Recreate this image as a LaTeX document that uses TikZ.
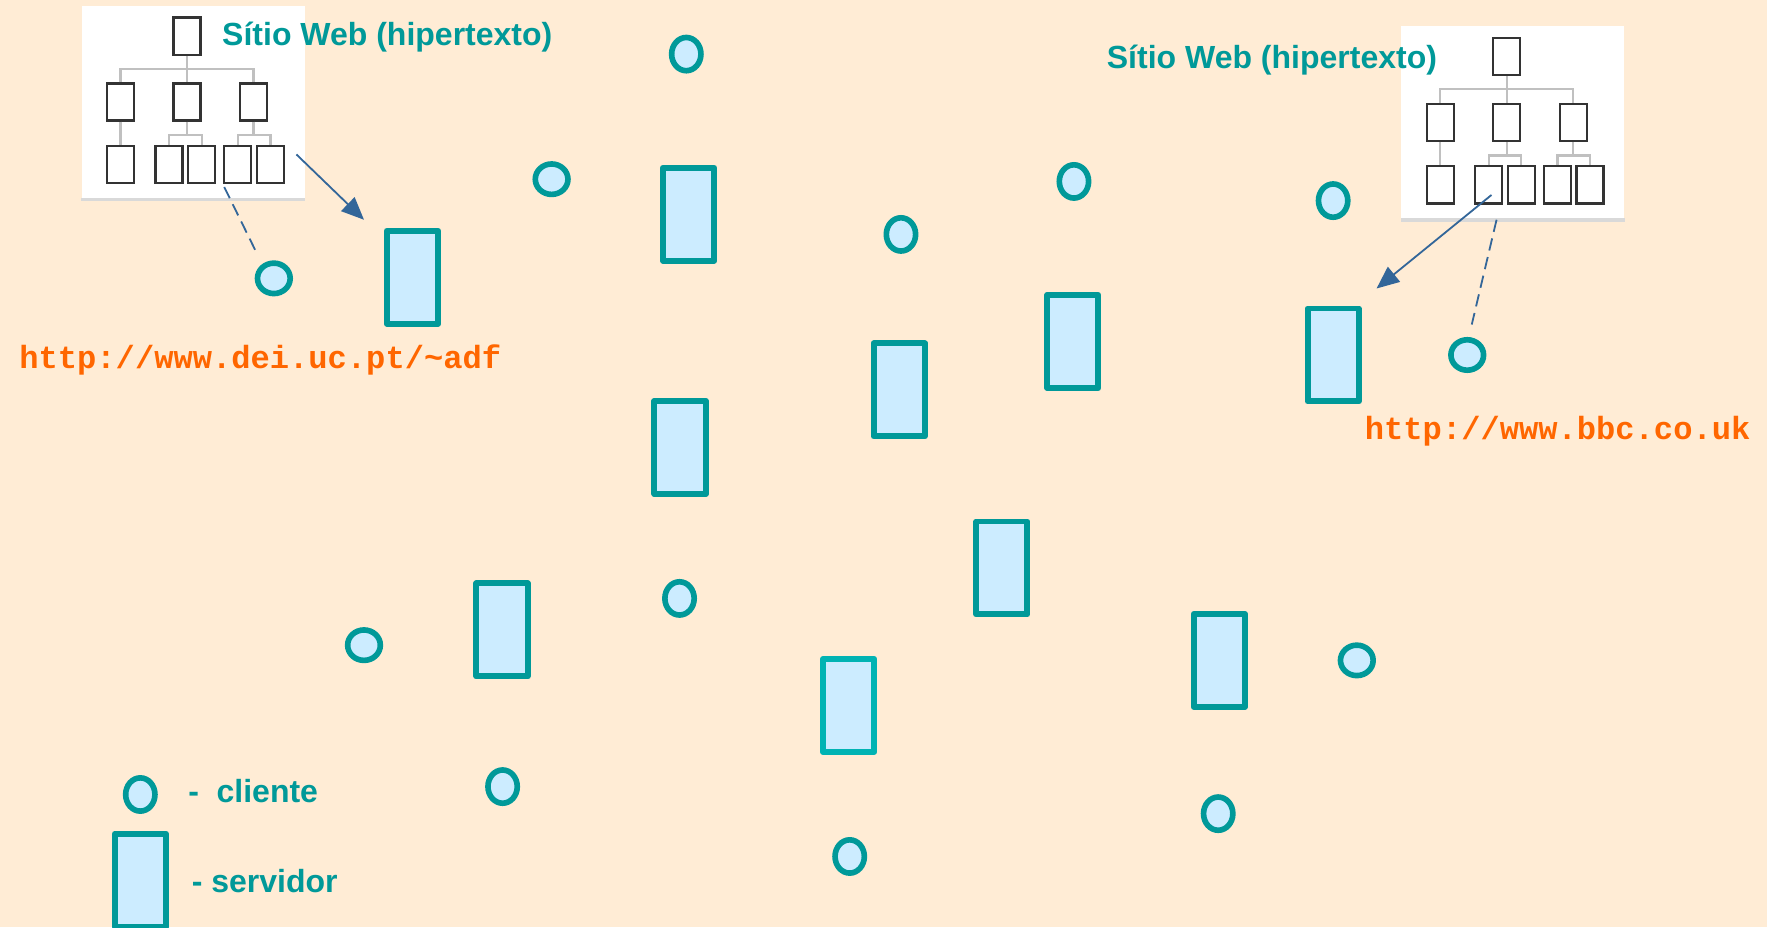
\documentclass[tikz,border=0pt]{standalone}
\usepackage{fontspec}
\setmainfont{Liberation Sans}
\newfontfamily\urlfont{Liberation Mono}
\usetikzlibrary{arrows.meta,shapes.geometric,calc}
\definecolor{bgc}{HTML}{FFECD5}
\definecolor{tealc}{HTML}{009999}
\definecolor{tealb}{HTML}{00B3B3}
\definecolor{fillc}{HTML}{CCECFF}
\definecolor{urlc}{HTML}{FF6600}
\definecolor{arrc}{HTML}{336699}
\definecolor{tboxc}{HTML}{333333}
\definecolor{tlinec}{HTML}{C0C0C0}
\begin{document}
\begin{tikzpicture}[x=1pt,y=-1pt,
  server/.style={rectangle,draw=tealc,fill=fillc,line width=5.3pt,line join=round,
    minimum width=45.5pt,minimum height=82.5pt,inner sep=0pt},
  cli/.style={ellipse,draw=tealc,fill=fillc,line width=5pt,
    minimum width=26pt,minimum height=29.5pt,inner sep=0pt},
  cliw/.style={ellipse,draw=tealc,fill=fillc,line width=5pt,
    minimum width=29pt,minimum height=27pt,inner sep=0pt},
  sitebox/.style={rectangle,fill=white,minimum width=198pt,minimum height=173pt,inner sep=0pt},
  tbox/.style={rectangle,draw=tboxc,fill=white,line width=2pt,
    minimum width=24pt,minimum height=33pt,inner sep=0pt},
  tline/.style={draw=tlinec,line width=2pt},
  title/.style={anchor=base west,inner sep=0pt,text=tealc,
    font=\fontsize{28.4}{34}\selectfont\bfseries},
  urltext/.style={anchor=base west,inner sep=0pt,text=urlc,
    font=\fontsize{28.5}{34}\selectfont\urlfont\bfseries},
  link/.style={draw=arrc,line width=1.6pt,-{Triangle[length=20pt,width=17pt]}},
  dlink/.style={draw=arrc,line width=1.6pt,dash pattern=on 11pt off 6pt}
]
\fill[bgc] (0,0) rectangle (1568,823);
\useasboundingbox (0,0) rectangle (1568,823);

% web sites (hierarchical trees)
\foreach \p/\dx/\dy in {L/0/0,R/1171/18}{
 \begin{scope}[shift={(\dx,\dy)}]
  \node[sitebox] (\p-site) at (171.5,92) {};
  \draw[draw=black!15,line width=3pt] ($(\p-site.south west)+(0,-1.5)$) -- ($(\p-site.south east)+(0,-1.5)$);
  \node[tbox] (\p-t) at (166,32) {};
  \node[tbox] (\p-m1) at (107,90.5) {};
  \node[tbox] (\p-m2) at (166,90.5) {};
  \node[tbox] (\p-m3) at (225,90.5) {};
  \node[tbox] (\p-b1) at (107,146) {};
  \node[tbox] (\p-b2) at (150,146) {};
  \node[tbox] (\p-b3) at (179,146) {};
  \node[tbox] (\p-b4) at (211,146) {};
  \node[tbox] (\p-b5) at (240,146) {};
  \coordinate (\p-h1) at (166,61);
  \coordinate (\p-h2) at (166,120);
  \coordinate (\p-h3) at (225,120);
  \draw[tline] (\p-t.south) -- (\p-h1);
  \draw[tline] (\p-m1.north) |- (\p-h1) -| (\p-m3.north);
  \draw[tline] (\p-h1) -- (\p-m2.north);
  \draw[tline] (\p-m1.south) -- (\p-b1.north);
  \draw[tline] (\p-m2.south) -- (\p-h2);
  \draw[tline] (\p-b2.north) |- (\p-h2) -| (\p-b3.north);
  \draw[tline] (\p-m3.south) -- (\p-h3);
  \draw[tline] (\p-b4.north) |- (\p-h3) -| (\p-b5.north);
 \end{scope}
}

\node[title] (ltitle) at (197,40) {Sítio Web (hipertexto)};
\node[title] (rtitle) at (982,60.5) {Sítio Web (hipertexto)};

% servers
\node[server] (s1) at (366,246) {};
\node[server] (s2) at (611,190) {};
\node[server] (s3) at (798,346) {};
\node[server] (s4) at (952,303) {};
\node[server] (s5) at (1183,315) {};
\node[server] (s6) at (603.5,397) {};
\node[server] (s7) at (889,504) {};
\node[server] (s8) at (445.5,559) {};
\node[server,draw=tealb] (s9) at (753,626) {};
\node[server] (s10) at (1082,586) {};

% clients
\node[cli]  (c1) at (609,48) {};
\node[cliw] (c2) at (489.5,159) {};
\node[cliw] (c3) at (243,247) {};
\node[cli]  (c4) at (799.5,208) {};
\node[cli]  (c5) at (953,161) {};
\node[cli]  (c6) at (1183,178) {};
\node[cliw] (c7) at (1302,315) {};
\node[cli]  (c8) at (603,531) {};
\node[cliw] (c9) at (323,572.5) {};
\node[cliw] (c10) at (1204,586) {};
\node[cli]  (c11) at (446,698) {};
\node[cli]  (c12) at (754,760) {};
\node[cli]  (c13) at (1081,722) {};

% links
\coordinate (la1) at (263,137);
\coordinate (la2) at (323,195);
\coordinate (ld1) at (199,166);
\coordinate (ld2) at (229,227);
\coordinate (ra1) at (1323.5,173);
\coordinate (ra2) at (1221.5,256);
\coordinate (rd1) at (1328,195);
\coordinate (rd2) at (1306,288);
\draw[link] (la1) -- (la2);
\draw[dlink] (ld1) -- (ld2);
\draw[link] (ra1) -- (ra2);
\draw[dlink] (rd1) -- (rd2);

% urls
\node[urltext] (url1) at (17,327) {http://www.dei.uc.pt/\char`\~adf};
\node[urltext] (url2) at (1211,390) {http://www.bbc.co.uk};

% legend
\node[cli] (lc) at (124.5,705) {};
\node[server] (ls) at (124.5,781) {};
\node[title] (lct) at (167,712) {-\hspace{15.6pt}cliente};
\node[title] (lst) at (170,792) {- servidor};
\end{tikzpicture}
\end{document}
